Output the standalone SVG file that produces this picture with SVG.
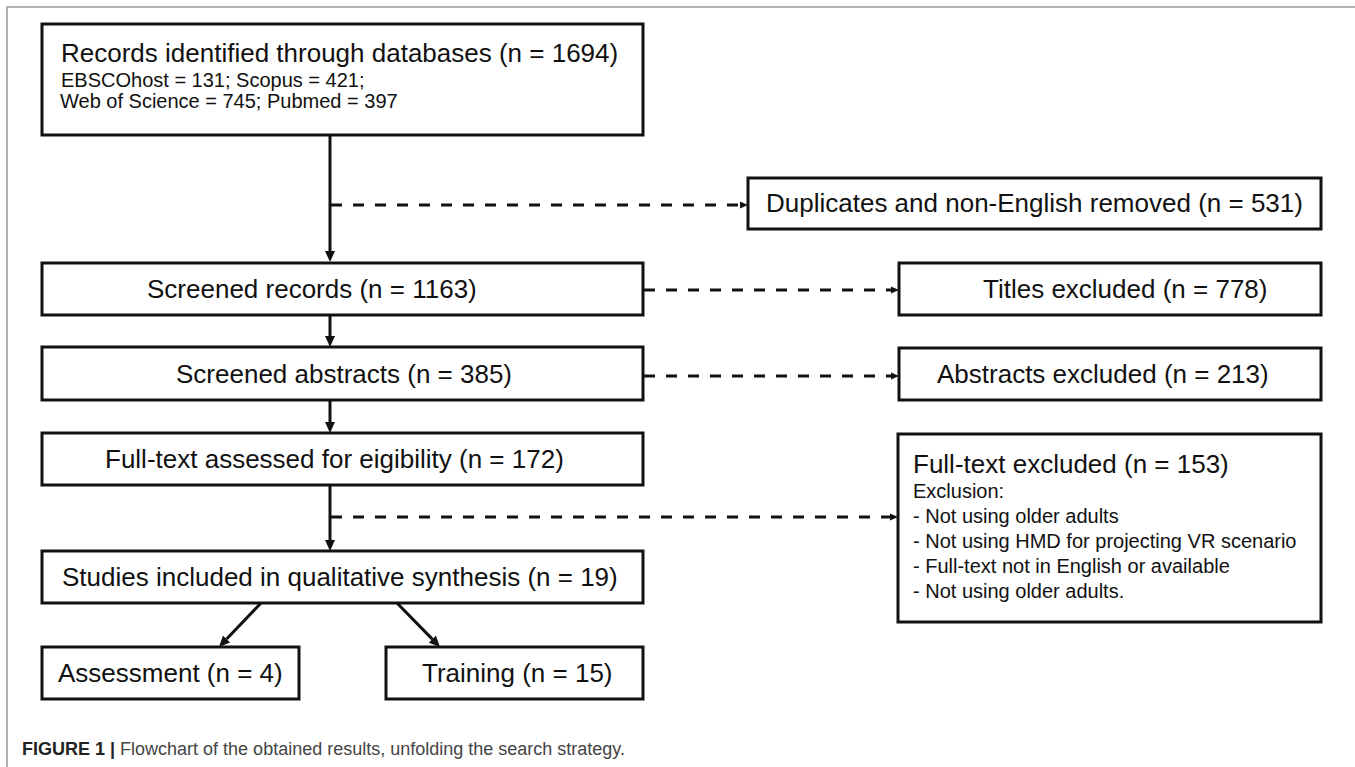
<svg xmlns="http://www.w3.org/2000/svg" width="1355" height="767" viewBox="0 0 1355 767">
<style>
.box{fill:#fff;stroke:#111;stroke-width:3}
.t{font-family:"Liberation Sans",Arial,sans-serif;font-size:26px;fill:#111}
.s{font-family:"Liberation Sans",Arial,sans-serif;font-size:20px;fill:#111}
.solid{stroke:#111;stroke-width:3;fill:none}
.dash{stroke:#111;stroke-width:3;fill:none;stroke-dasharray:11 11}
.cap{font-family:"Liberation Sans",Arial,sans-serif;font-size:18px;fill:#444}
</style>
<defs>
<marker id="ah" markerUnits="userSpaceOnUse" markerWidth="11" markerHeight="10" refX="0" refY="5" orient="auto" viewBox="0 0 11 10">
<path d="M0,0 L11,5 L0,10 z" fill="#111"/>
</marker>
<marker id="ahs" markerUnits="userSpaceOnUse" markerWidth="8" markerHeight="8" refX="0" refY="4" orient="auto" viewBox="0 0 8 8">
<path d="M0,0.5 L8,4 L0,7.5 z" fill="#111"/>
</marker>
</defs>
<rect width="1355" height="767" fill="#fff"/>
<path d="M7,767 L7,7 L1355,7" fill="none" stroke="#999" stroke-width="1.5"/>

<g id="connectors">
<path class="solid" d="M330,135 L330,251" marker-end="url(#ah)"/>
<path class="solid" d="M330,315 L330,336" marker-end="url(#ah)"/>
<path class="solid" d="M330,400 L330,422" marker-end="url(#ah)"/>
<path class="solid" d="M330,485 L330,540" marker-end="url(#ah)"/>
<path class="solid" d="M261,603 L226.6,639" marker-end="url(#ah)"/>
<path class="solid" d="M397,603 L432.3,639.1" marker-end="url(#ah)"/>
<path class="dash" d="M331,205 L740,205" marker-end="url(#ahs)"/>
<path class="dash" d="M644,290 L891,290" marker-end="url(#ahs)"/>
<path class="dash" d="M644,376 L891,376" marker-end="url(#ahs)"/>
<path class="dash" d="M331,517 L890,517" marker-end="url(#ahs)"/>
</g>

<g id="records">
<rect class="box" x="42" y="24" width="601" height="111"/>
<text class="t" x="61" y="62" font-size="25.6">Records identified through databases (n = 1694)</text>
<text class="s" x="61" y="87">EBSCOhost = 131; Scopus = 421;</text>
<text class="s" x="60" y="108">Web of Science = 745; Pubmed = 397</text>
</g>
<g id="duplicates">
<rect class="box" x="748" y="178" width="573" height="51"/>
<text class="t" x="766" y="212">Duplicates and non-English removed (n = 531)</text>
</g>
<g id="screened">
<rect class="box" x="42" y="263" width="601" height="52"/>
<text class="t" x="147" y="298">Screened records (n = 1163)</text>
</g>
<g id="titles">
<rect class="box" x="899" y="263" width="422" height="52"/>
<text class="t" x="983" y="298">Titles excluded (n = 778)</text>
</g>
<g id="abstracts">
<rect class="box" x="42" y="347" width="601" height="53"/>
<text class="t" x="176" y="383">Screened abstracts (n = 385)</text>
</g>
<g id="abstracts-excluded">
<rect class="box" x="899" y="348" width="422" height="52"/>
<text class="t" x="937" y="383">Abstracts excluded (n = 213)</text>
</g>
<g id="fulltext">
<rect class="box" x="42" y="433" width="601" height="52"/>
<text class="t" x="105" y="468">Full-text assessed for eigibility (n = 172)</text>
</g>
<g id="fulltext-excluded">
<rect class="box" x="898" y="434" width="423" height="188"/>
<text class="t" x="913" y="473">Full-text excluded (n = 153)</text>
<text class="s" x="913" y="498">Exclusion:</text>
<text class="s" x="913" y="523">- Not using older adults</text>
<text class="s" x="913" y="548">- Not using HMD for projecting VR scenario</text>
<text class="s" x="913" y="573">- Full-text not in English or available</text>
<text class="s" x="913" y="598">- Not using older adults.</text>
</g>
<g id="studies">
<rect class="box" x="42" y="551" width="601" height="52"/>
<text class="t" x="62" y="586">Studies included in qualitative synthesis (n = 19)</text>
</g>
<g id="assessment">
<rect class="box" x="42" y="647" width="257" height="52"/>
<text class="t" x="58" y="682">Assessment (n = 4)</text>
</g>
<g id="training">
<rect class="box" x="386" y="647" width="257" height="52"/>
<text class="t" x="422" y="682">Training (n = 15)</text>
</g>
<g id="caption">
<text class="cap" x="22" y="755"><tspan font-weight="bold" fill="#222">FIGURE 1 |</tspan> Flowchart of the obtained results, unfolding the search strategy.</text>
</g>
</svg>
